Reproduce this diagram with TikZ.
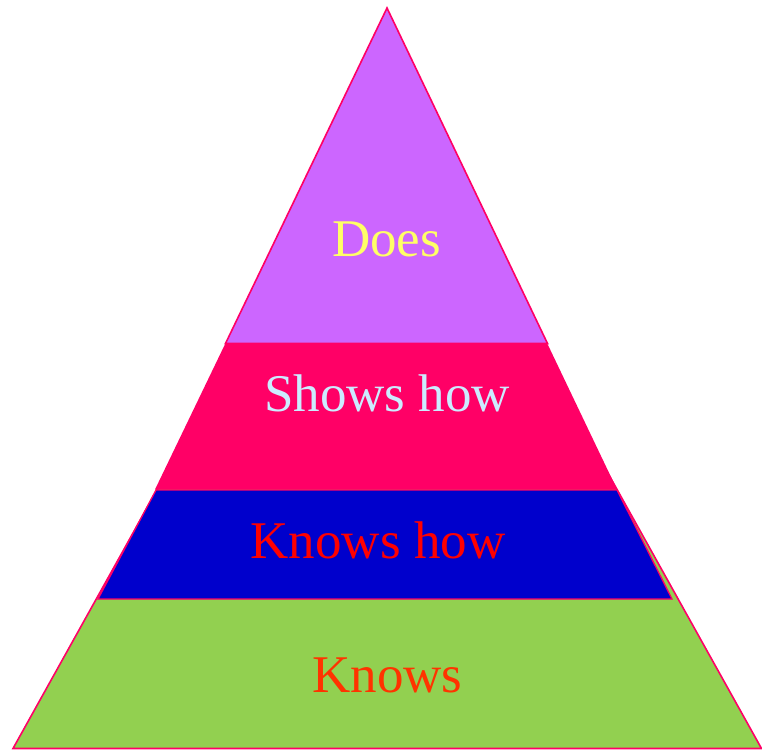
\documentclass[tikz,border=0pt]{standalone}
\usepackage{fontspec}
\setmainfont{Liberation Serif}
\definecolor{pyrpurple}{HTML}{CC66FF}
\definecolor{pyrpink}{HTML}{FF0066}
\definecolor{pyrblue}{HTML}{0000CC}
\definecolor{pyrgreen}{HTML}{92D050}
\definecolor{txtyellow}{HTML}{FFFF66}
\definecolor{txtcyan}{HTML}{CCECFF}
\definecolor{txtred}{HTML}{FF0000}
\definecolor{txtorange}{HTML}{FF3300}
\tikzset{
  layer/.style={draw=pyrpink, line width=1.6pt, line join=miter},
  label/.style={inner sep=0pt, font=\fontsize{53}{60}\selectfont}
}
\begin{document}
\begin{tikzpicture}[x=1pt,y=-1pt]
\useasboundingbox (0,0) rectangle (762,750);
% green base triangle
\filldraw[layer, fill=pyrgreen] (13,748.5) -- (761.5,748.5) -- (387,77) -- cycle;
% pink triangle
\fill[pyrpink] (387,8) -- (617,489.5) -- (155,489.5) -- cycle;
% blue trapezoid
\filldraw[layer, line width=1.3pt, fill=pyrblue] (156,490) -- (617,490) -- (672,599) -- (98,599) -- cycle;
% purple top
\filldraw[layer, fill=pyrpurple] (387,8) -- (547.5,343.5) -- (225.5,343.5) -- cycle;
% labels
\node[label, text=txtyellow] (does) at (386.5,239) {Does};
\node[label, text=txtcyan] (shows) at (387,393) {Shows how};
\node[label, text=txtred] (knowshow) at (378,540) {Knows how};
\node[label, text=txtorange] (knows) at (387.5,675) {Knows};
\end{tikzpicture}
\end{document}
